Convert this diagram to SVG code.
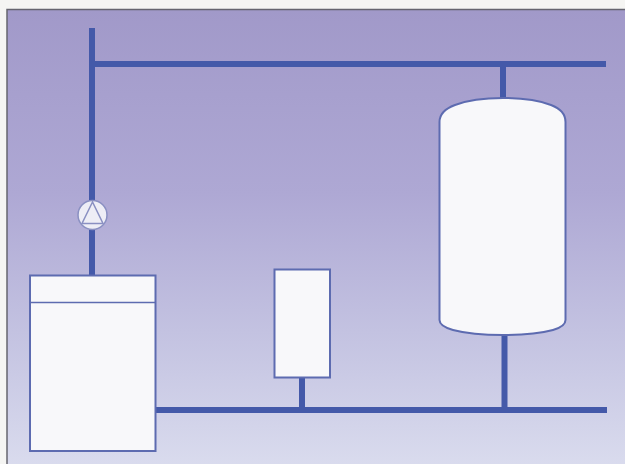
<svg xmlns="http://www.w3.org/2000/svg" width="625" height="464" viewBox="0 0 625 464">
<style>
.pipe{fill:none;stroke:#4459a9;stroke-width:6}
.unit{fill:#f8f8fa;stroke:#5d6bb0;stroke-width:2}
.thin{fill:none;stroke:#5d6bb0;stroke-width:1.5}
.pump{fill:#eeeef6;stroke:#8a90c2;stroke-width:1.5}
</style>
<defs>
<linearGradient id="bg" x1="0" y1="0" x2="0" y2="1">
<stop offset="0" stop-color="#a199c9"/>
<stop offset="0.4" stop-color="#aea8d4"/>
<stop offset="0.7" stop-color="#c3c2e1"/>
<stop offset="1" stop-color="#dadcee"/>
</linearGradient>
</defs>
<rect width="625" height="464" fill="#f5f5f3"/>
<rect id="background" x="7" y="9.500" width="625" height="460" fill="url(#bg)" stroke="#66656f" stroke-width="1.5"/>
<g id="connectors">
<path class="pipe" d="M92 28V275"/>
<path class="pipe" d="M92 64H606"/>
<path class="pipe" d="M503 64V98"/>
<path class="pipe" d="M156 410H607"/>
<path class="pipe" d="M302 377V410"/>
<path class="pipe" d="M504.500 334V410"/>
</g>
<g id="pump">
<circle class="pump" cx="92.500" cy="215" r="14.500"/>
<path class="pump" style="fill:none" d="M92.500 202L82 223.500H103Z"/>
</g>
<g id="boiler">
<rect class="unit" x="30" y="275.500" width="125.500" height="175.500"/>
<path class="thin" d="M30 302.500H155.500"/>
</g>
<g id="small-vessel">
<rect class="unit" x="274.500" y="269.500" width="55.500" height="108"/>
</g>
<g id="storage-tank">
<path class="unit" d="M439.500 122C439.500 113 447 108 455 105C468 100 485 98 503 98S538 100 551 105C559 108 565.500 113 565.500 122V320C565.500 325 560 328 553 330C538 334 520 335 503 335S468 334 453 330C446 328 439.500 325 439.500 320Z"/>
</g>
</svg>
